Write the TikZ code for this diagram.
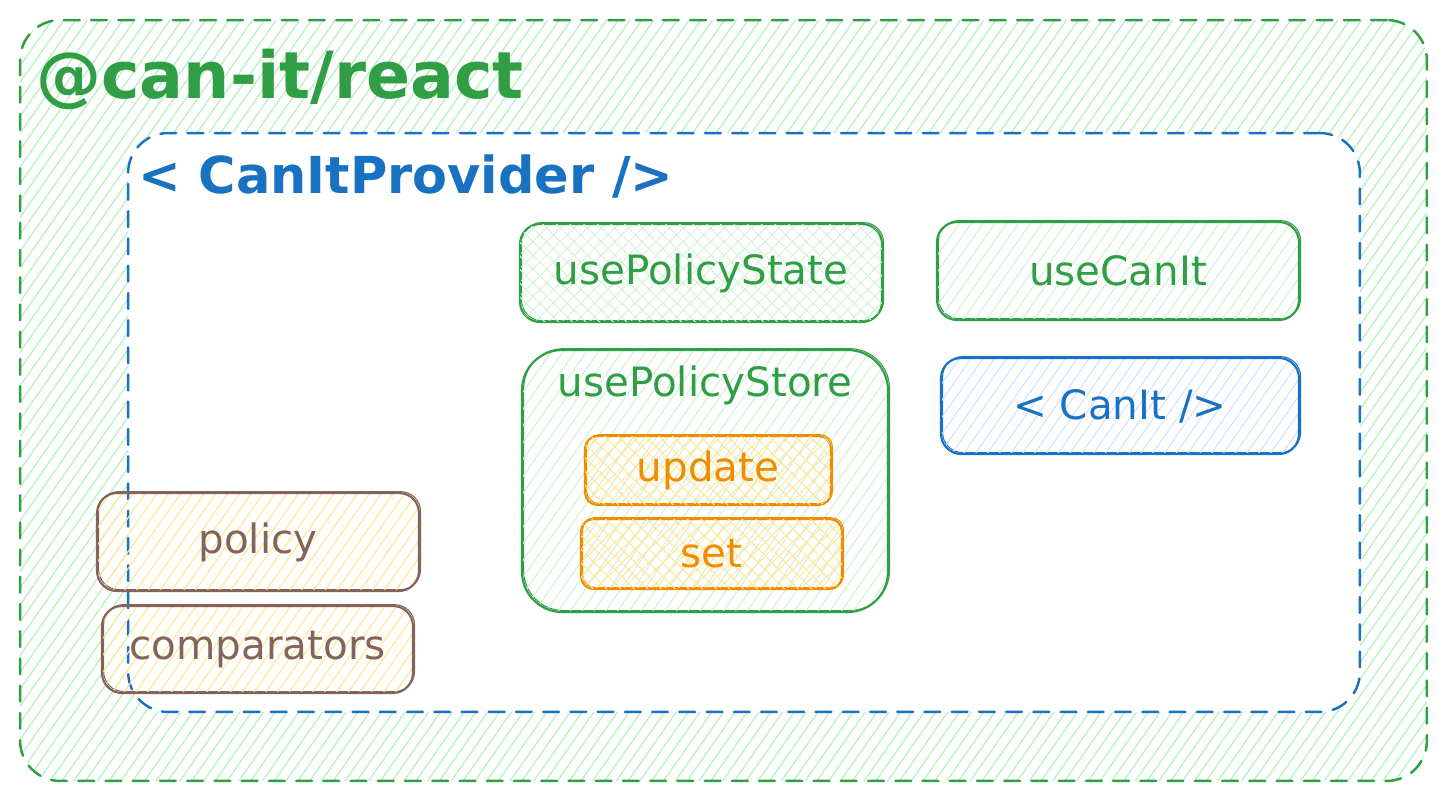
\documentclass[tikz,border=0pt]{standalone}
\usepackage{fontspec}
\setmainfont{DejaVu Sans}
\usetikzlibrary{patterns.meta}
\definecolor{exgreen}{HTML}{2F9E44}
\definecolor{exblue}{HTML}{1971C2}
\definecolor{exorange}{HTML}{F08C00}
\definecolor{exbrown}{HTML}{846358}
\definecolor{hgreen}{HTML}{B2F2BB}
\definecolor{hgreenlight}{HTML}{D3F4D8}
\definecolor{hblue}{HTML}{CFE8FF}
\definecolor{hyellow}{HTML}{FFE89A}
\tikzset{
  sk/.style={draw=#1, text=#1, line width=1.2pt,
    preaction={draw=#1, line width=0.6pt, transform canvas={shift={(0.9pt,0.8pt)}}}},
  hatch/.style={pattern={Lines[angle=55,distance=5.5pt,line width=0.7pt]}, pattern color=#1},
  crosshatch/.style={pattern={Lines[angle=45,distance=5.5pt,line width=0.6pt]}, pattern color=#1,
    postaction={pattern={Lines[angle=-45,distance=5.5pt,line width=0.6pt]}, pattern color=#1}},
  dashframe/.style={draw=#1, line width=1.4pt, line cap=round, dash pattern=on 9pt off 6.5pt},
  lbl/.style={font=\fontsize{23}{27}\selectfont},
}
\begin{document}
\begin{tikzpicture}[x=0.02cm,y=-0.02cm]
\useasboundingbox (0,0) rectangle (1447,802);
% outer frame
\node[dashframe=exgreen, hatch=hgreen, rounded corners=0.8cm, minimum width=28.14cm, minimum height=15.22cm] (frame) at (723.5,400.5) {};
\node[anchor=base west, inner sep=0, text=exgreen, font=\fontsize{37}{43}\selectfont\bfseries] (title) at (36,98) {@can-it/react};
% provider
\node[dashframe=exblue, fill=white, rounded corners=0.8cm, minimum width=24.64cm, minimum height=11.58cm] (prov) at (744,422.5) {};
\node[anchor=base west, inner sep=0, text=exblue, font=\fontsize{29}{33}\selectfont\bfseries] (provtitle) at (138,193) {< CanItProvider />};
% hooks
\node[sk=exgreen, crosshatch=hgreenlight, rounded corners=0.4cm, minimum width=7.24cm, minimum height=1.96cm, lbl] (ps) at (701,273) {usePolicyState};
\node[sk=exgreen, hatch=hgreenlight, rounded corners=0.4cm, minimum width=7.24cm, minimum height=1.96cm, lbl] (uc) at (1118,271) {useCanIt};
\node[sk=exblue, hatch=hblue, rounded corners=0.4cm, minimum width=7.16cm, minimum height=1.92cm, lbl] (ci) at (1120,406) {< CanIt />};
% store
\node[sk=exgreen, hatch=hgreenlight, rounded corners=0.8cm, minimum width=7.32cm, minimum height=5.24cm] (store) at (705,481) {};
\node[text=exgreen, lbl] (storelbl) at (705,385) {usePolicyStore};
\node[sk=exorange, crosshatch=hyellow, rounded corners=0.25cm, minimum width=4.92cm, minimum height=1.38cm, lbl] (upd) at (708,470.5) {update};
\node[sk=exorange, crosshatch=hyellow, rounded corners=0.25cm, minimum width=5.22cm, minimum height=1.4cm, lbl] (set) at (711.5,554) {set};
% policy
\node[sk=exbrown, hatch=hyellow, rounded corners=0.4cm, minimum width=6.44cm, minimum height=1.96cm, lbl] (pol) at (258,542) {policy};
\node[sk=exbrown, hatch=hyellow, rounded corners=0.4cm, minimum width=6.22cm, minimum height=1.74cm, lbl] (cmp) at (257.5,649.5) {comparators};
\end{tikzpicture}
\end{document}
